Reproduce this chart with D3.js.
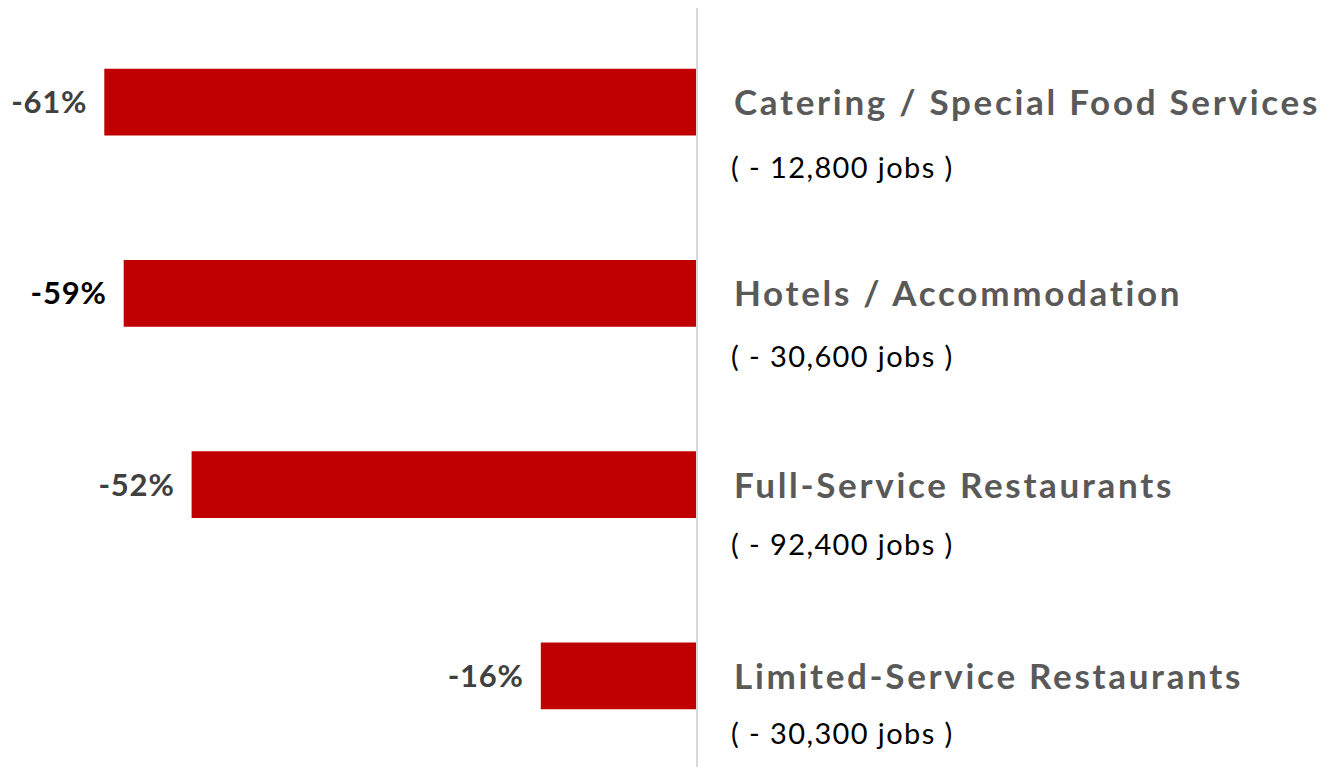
<!DOCTYPE html>
<html>
<head>
<meta charset="utf-8">
<script src="https://cdn.jsdelivr.net/npm/d3@7"></script>
<style>
  body { margin: 0; background: #fff; }
  svg { display: block; }
  text { font-variant-ligatures: none; }
</style>
</head>
<body>
<div id="chart"></div>
<script>
// data
var categories = ["Catering / Special Food Services", "Hotels / Accommodation", "Full-Service Restaurants", "Limited-Service Restaurants"];
var changePct = [-61, -59, -52, -16];
var jobLosses = ["( - 12,800 jobs )", "( - 30,600 jobs )", "( - 92,400 jobs )", "( - 30,300 jobs )"];
var emphasized = "Hotels / Accommodation";

var svgWidth = 1329, svgHeight = 767;
var zeroX = 696;

var svg = d3.select('#chart')
  .append('svg')
  .attr('width', svgWidth)
  .attr('height', svgHeight);

var x = d3.scaleLinear()
  .domain([-70, 0])
  .range([zeroX - 70 * 9.7, zeroX]);

var y = d3.scaleBand()
  .domain(categories)
  .range([6.5, 771.5])
  .paddingInner(0.651)
  .paddingOuter(0.3255);

// sub-label rows sit a bit tighter than the bars
var ySub = d3.scalePoint()
  .domain(categories)
  .range([178, 744]);

var rows = categories.map(function(c, i){
  return {cat: c, v: changePct[i], jobs: jobLosses[i]};
});

// bars
svg.selectAll('rect.bar')
  .data(rows)
  .enter()
  .append('rect')
  .attr('class', 'bar')
  .attr('x', function(d){ return x(d.v); })
  .attr('y', function(d){ return y(d.cat); })
  .attr('width', function(d){ return x(0) - x(d.v); })
  .attr('height', y.bandwidth())
  .attr('fill', '#c00000');

// zero line
svg.append('line')
  .attr('x1', x(0) + 1).attr('x2', x(0) + 1)
  .attr('y1', 8).attr('y2', svgHeight)
  .attr('stroke', '#d9d9d9')
  .attr('stroke-width', 2);

// value labels
svg.selectAll('text.val')
  .data(rows)
  .enter()
  .append('text')
  .attr('class', 'val')
  .attr('x', function(d){ return x(d.v) - 17; })
  .attr('y', function(d){ return y(d.cat) + y.bandwidth() / 2 + 11; })
  .attr('text-anchor', 'end')
  .attr('font-family', 'Lato, sans-serif')
  .attr('font-weight', 'bold')
  .attr('font-size', 31)
  .attr('letter-spacing', 0.8)
  .attr('fill', function(d){ return d.cat === emphasized ? '#000' : '#404040'; })
  .text(function(d){ return d.v + '%'; });

// category labels
svg.selectAll('text.cat')
  .data(rows)
  .enter()
  .append('text')
  .attr('class', 'cat')
  .attr('x', 734)
  .attr('y', function(d){ return y(d.cat) + y.bandwidth() / 2 + 13; })
  .attr('font-family', 'Lato, sans-serif')
  .attr('font-weight', 'bold')
  .attr('font-size', 35)
  .attr('letter-spacing', 2.7)
  .attr('fill', '#595959')
  .text(function(d){ return d.cat; });

// job losses
svg.selectAll('text.jobs')
  .data(rows)
  .enter()
  .append('text')
  .attr('class', 'jobs')
  .attr('x', 731)
  .attr('y', function(d){ return ySub(d.cat); })
  .attr('font-family', 'Lato, sans-serif')
  .attr('font-size', 29)
  .attr('letter-spacing', 1.4)
  .attr('fill', '#000')
  .text(function(d){ return d.jobs; });
</script>
</body>
</html>
